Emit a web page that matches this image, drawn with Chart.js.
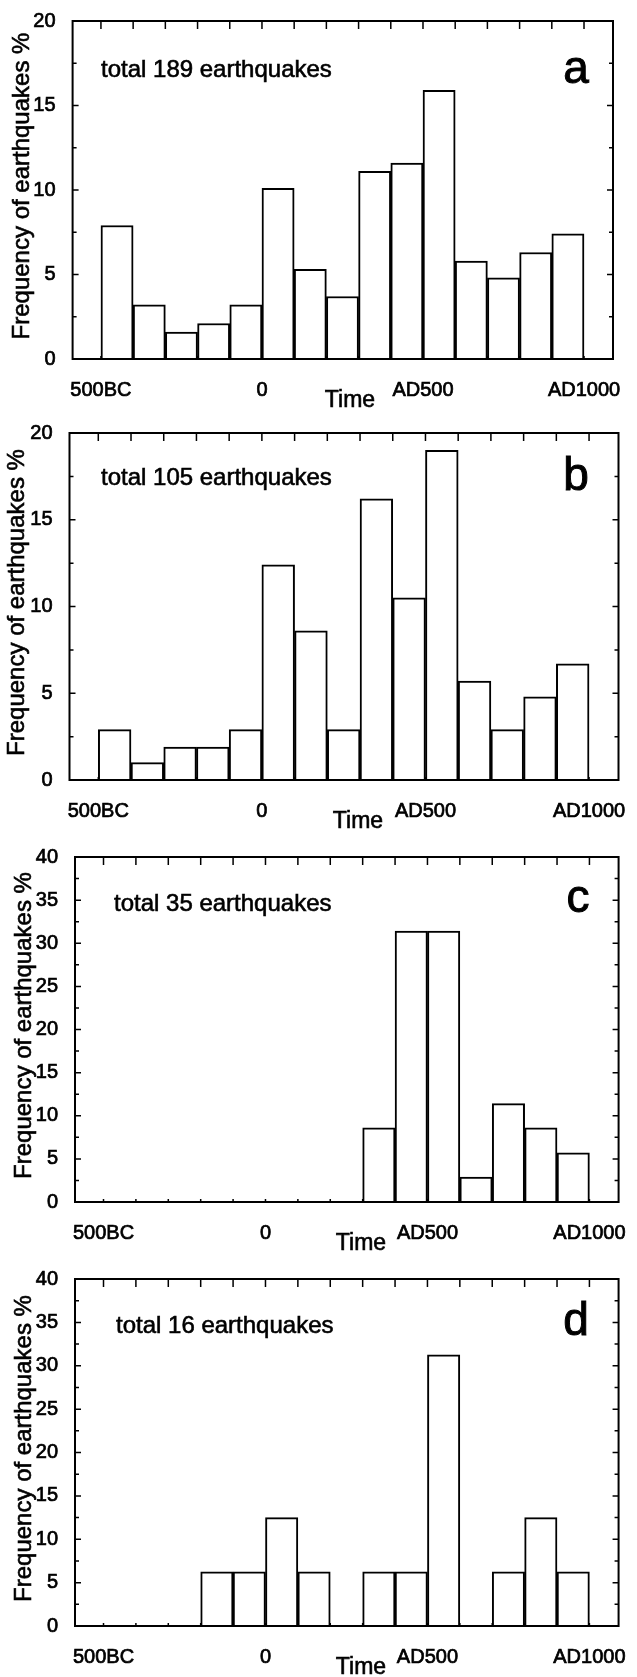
<!DOCTYPE html>
<html>
<head>
<meta charset="utf-8">
<title>Frequency of earthquakes</title>
<script src="https://cdn.jsdelivr.net/npm/chart.js@4.4.1/dist/chart.umd.min.js"></script>
<style>
  html, body { margin: 0; padding: 0; background: #fff; overflow: hidden; }
  body { width: 637px; height: 1677px; position: relative; }
  .panel { position: absolute; left: 0; width: 637px; }
  canvas { display: block; }
</style>
</head>
<body>
<div class="panel" id="panelA"><canvas id="chartA"></canvas></div>
<div class="panel" id="panelB"><canvas id="chartB"></canvas></div>
<div class="panel" id="panelC"><canvas id="chartC"></canvas></div>
<div class="panel" id="panelD"><canvas id="chartD"></canvas></div>
<script>
// 100-year bins, given by start year (negative = BC)
var bins = [-500, -400, -300, -200, -100, 0, 100, 200, 300, 400, 500, 600, 700, 800, 900];
var tickYears = [-500, 0, 500, 1000];
var tickLabels = ['500BC', '0', 'AD500', 'AD1000'];

// frequency of earthquakes in %, one value per bin
var freqA = [7.9, 3.2, 1.6, 2.1, 3.2, 10.1, 5.3, 3.7, 11.1, 11.6, 15.9, 5.8, 4.8, 6.3, 7.4];
var freqB = [2.9, 1.0, 1.9, 1.9, 2.9, 12.4, 8.6, 2.9, 16.2, 10.5, 19.0, 5.7, 2.9, 4.8, 6.7];
var freqC = [null, null, null, null, null, null, null, null, 8.6, 31.4, 31.4, 2.9, 11.4, 8.6, 5.7];
var freqD = [null, null, null, 6.25, 6.25, 12.5, 6.25, null, 6.25, 6.25, 31.25, null, 6.25, 12.5, 6.25];

var totals = [189, 105, 35, 16];
var letters = ['a', 'b', 'c', 'd'];
var yMax = [20, 20, 40, 40];
var xTitle = 'Time';
var yTitle = 'Frequency of earthquakes %';

var FONT = '"Liberation Sans", Arial, Helvetica, sans-serif';
Chart.defaults.font.family = FONT;
Chart.defaults.color = '#000';

// plot box of each panel in page pixels, plus where the notes sit
var boxes = [
  {top: 16, bottom: 359, left: 72.6, right: 613, titleX: 22, timeX: 350, noteX: 101, noteY: 77, letterX: 576, letterY: 83},
  {top: 428, bottom: 780, left: 69.5, right: 622, titleX: 17, timeX: 358, noteX: 101, noteY: 485, letterX: 576, letterY: 490},
  {top: 852, bottom: 1202, left: 75, right: 629, titleX: 24, timeX: 361, noteX: 114, noteY: 911, letterX: 578, letterY: 912},
  {top: 1274, bottom: 1626, left: 75, right: 628.7, titleX: 24, timeX: 361, noteX: 116, noteY: 1333, letterX: 576, letterY: 1335}
];

function heavyText(ctx, text, x, y, width) {
  ctx.lineWidth = width;
  ctx.fillText(text, x, y);
  ctx.strokeText(text, x, y);
}

// frame, inward ticks, axis titles and the panel notes
var framePlugin = {
  id: 'frame',
  afterDatasetsDraw: function(chart, args, opts) {
    var ctx = chart.ctx, a = chart.chartArea;
    var xs = chart.scales.x, ys = chart.scales.y;
    ctx.save();
    ctx.strokeStyle = '#000';
    ctx.lineWidth = 2;
    ctx.strokeRect(a.left, a.top, a.right - a.left, a.bottom - a.top);

    ctx.lineWidth = 1.5;
    ctx.beginPath();
    for (var v = 0; v <= ys.max; v += 2.5) {
      var py = ys.getPixelForValue(v);
      var len = v % 5 === 0 ? 6 : 4;
      ctx.moveTo(a.left, py); ctx.lineTo(a.left + len, py);
      ctx.moveTo(a.right, py); ctx.lineTo(a.right - len, py);
    }
    bins.concat([1000]).forEach(function(yr) {
      var px = xs.getPixelForValue(yr);
      ctx.moveTo(px, a.top); ctx.lineTo(px, a.top + 8);
      ctx.moveTo(px, a.bottom); ctx.lineTo(px, a.bottom - 3);
    });
    ctx.stroke();

    ctx.fillStyle = '#000';
    ctx.textBaseline = 'alphabetic';
    ctx.textAlign = 'left';
    ctx.font = '24px ' + FONT;
    heavyText(ctx, opts.note, opts.noteX, opts.noteY, 0.6);
    ctx.textAlign = 'center';
    ctx.font = '46px ' + FONT;
    heavyText(ctx, opts.letter, opts.letterX, opts.letterY, 1);

    // axis titles
    ctx.textBaseline = 'middle';
    ctx.font = '23px ' + FONT;
    heavyText(ctx, xTitle, opts.timeX, a.bottom + 41.5, 0.6);
    ctx.font = '24px ' + FONT;
    ctx.translate(opts.titleX, (a.top + a.bottom) / 2 - 4);
    ctx.rotate(-Math.PI / 2);
    heavyText(ctx, yTitle, 0, 0, 0.6);
    ctx.restore();
  }
};

function makeChart(id, idx, values) {
  var box = boxes[idx];
  var canvasTop = box.top - 16;
  var height = Math.round(box.bottom - canvasTop + 60);
  var holder = document.getElementById(id).parentNode;
  holder.style.top = canvasTop + 'px';
  var canvas = document.getElementById(id);
  canvas.width = 637;
  canvas.height = height;

  return new Chart(canvas.getContext('2d'), {
    type: 'bar',
    data: {
      datasets: [{
        data: bins.map(function(b, i) { return {x: b + 50, y: values[i]}; }),
        backgroundColor: '#fff',
        borderColor: '#000',
        borderWidth: 2,
        barPercentage: 1,
        categoryPercentage: 1
      }]
    },
    options: {
      responsive: false,
      animation: false,
      devicePixelRatio: 1,
      layout: { padding: { top: 16, right: 637 - box.right, left: 0, bottom: 0 } },
      plugins: {
        legend: { display: false },
        tooltip: { enabled: false },
        frame: {
          note: 'total ' + totals[idx] + ' earthquakes',
          letter: letters[idx],
          titleX: box.titleX,
          timeX: box.timeX,
          noteX: box.noteX, noteY: box.noteY - canvasTop,
          letterX: box.letterX, letterY: box.letterY - canvasTop
        }
      },
      scales: {
        x: {
          type: 'linear',
          offset: false,
          min: -588,
          max: 1090,
          grid: { display: false },
          border: { display: false },
          afterBuildTicks: function(s) {
            s.ticks = tickYears.map(function(v) { return {value: v}; });
          },
          afterFit: function(s) { s.height = 60; },
          ticks: {
            padding: 11,
            maxRotation: 0,
            autoSkip: false,
            font: { size: 20 },
            textStrokeColor: '#000',
            textStrokeWidth: 0.7,
            callback: function(v) { return tickLabels[tickYears.indexOf(v)]; }
          }
        },
        y: {
          min: 0,
          max: yMax[idx],
          grid: { display: false },
          border: { display: false },
          afterFit: function(s) { s.width = box.left; },
          ticks: {
            stepSize: 5,
            padding: 9,
            font: { size: 20 },
            textStrokeColor: '#000',
            textStrokeWidth: 0.7
          }
        }
      }
    },
    plugins: [framePlugin]
  });
}

makeChart('chartA', 0, freqA);
makeChart('chartB', 1, freqB);
makeChart('chartC', 2, freqC);
makeChart('chartD', 3, freqD);
</script>
</body>
</html>
